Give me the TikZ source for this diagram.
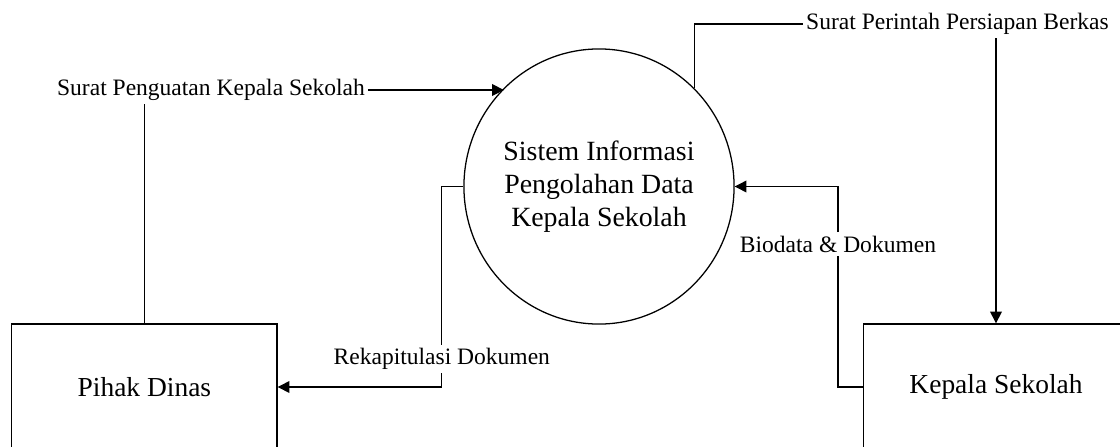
\documentclass[tikz,border=0pt]{standalone}
\usepackage{fontspec}
\setmainfont{Liberation Serif}
\usetikzlibrary{shapes.geometric,arrows.meta,positioning}

\begin{document}
\begin{tikzpicture}[x=0.51pt, y=-0.51pt, line width=0.65pt, font=\fontsize{12}{14}\selectfont, box/.style={draw, minimum width=135.3pt, minimum height=64.3pt, font=\fontsize{14}{16}\selectfont}, proc/.style={draw, ellipse, inner sep=0pt, minimum width=135.7pt, minimum height=140.3pt, align=center, font=\fontsize{14.2}{16.8}\selectfont}, lbl/.style={inner sep=1.5pt}, arr/.style={-{Triangle[length=6pt, width=6pt]}}]
\useasboundingbox (0,0) rectangle (1120,446);
\clip (0,0) rectangle (1120,446);
\node[proc] (sis) at (599,186.5) {Sistem Informasi\\Pengolahan Data\\Kepala Sekolah};
\node[box] (dinas) at (144.4,387) {Pihak Dinas};
\node[box] (kepsek) at (996,387) {Kepala Sekolah};
\node[lbl] (penguatan) at (211,90) {Surat Penguatan Kepala Sekolah};
\node[lbl] (perintah) at (957.5,24) {Surat Perintah Persiapan Berkas};
\node[lbl] (rekap) at (441.8,359) {Rekapitulasi Dokumen};
\node[lbl] (biodata) at (838,244) {Biodata \& Dokumen};
\draw (dinas.north) -- (dinas.north |- penguatan.south);
\draw[arr] (penguatan.east) -- (penguatan.east -| sis.134);
\draw (sis.46) |- (perintah.west);
\draw[arr] (perintah.south -| kepsek.north) -- (kepsek.north);
\draw (sis.west) -| (rekap.north);
\draw[arr] (rekap.south) |- (dinas.east);
\draw (kepsek.west) -| (biodata.south);
\draw[arr] (biodata.north) |- (sis.east);
\end{tikzpicture}
\end{document}
